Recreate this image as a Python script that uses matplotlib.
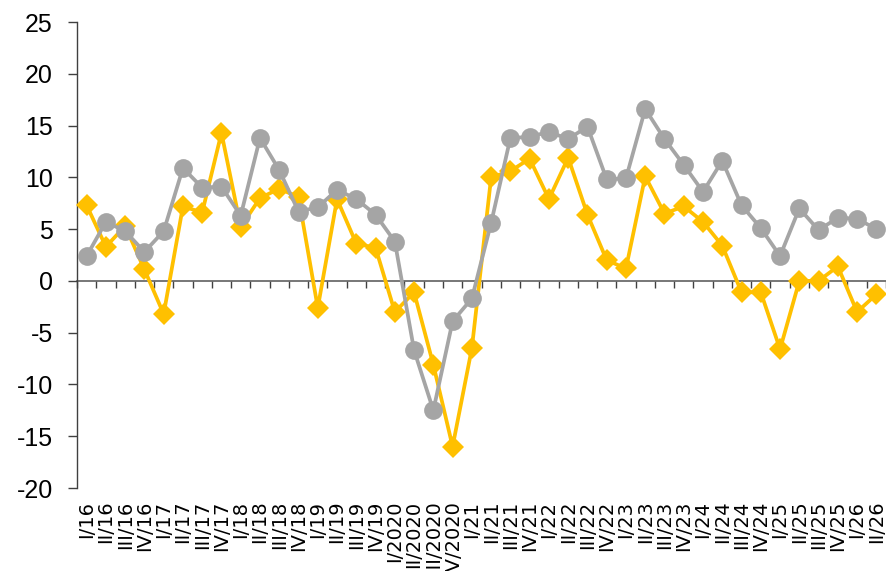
import matplotlib
matplotlib.use("Agg")
import matplotlib.pyplot as plt

categories = ["I/16", "II/16", "III/16", "IV/16",
              "I/17", "II/17", "III/17", "IV/17",
              "I/18", "II/18", "III/18", "IV/18",
              "I/19", "II/19", "III/19", "IV/19",
              "I/2020", "II/2020", "III/2020", "IV/2020",
              "I/21", "II/21", "III/21", "IV/21",
              "I/22", "II/22", "III/22", "IV/22",
              "I/23", "II/23", "III/23", "IV/23",
              "I/24", "II/24", "III/24", "IV/24",
              "I/25", "II/25", "III/25", "IV/25",
              "I/26", "II/26"]

gray_series = [2.4, 5.7, 4.8, 2.8,
               4.8, 10.9, 9.0, 9.1,
               6.3, 13.8, 10.7, 6.7,
               7.1, 8.8, 7.9, 6.4,
               3.8, -6.7, -12.5, -3.9,
               -1.7, 5.6, 13.8, 13.9,
               14.4, 13.7, 14.9, 9.8,
               9.9, 16.6, 13.7, 11.2,
               8.6, 11.6, 7.3, 5.1,
               2.4, 7.0, 4.9, 6.1,
               6.0, 5.0]

yellow_series = [7.3, 3.3, 5.3, 1.1,
                 -3.2, 7.2, 6.6, 14.3,
                 5.2, 8.0, 8.9, 8.1,
                 -2.6, 7.9, 3.6, 3.2,
                 -3.0, -1.1, -8.1, -16.0,
                 -6.5, 10.0, 10.6, 11.8,
                 7.9, 11.9, 6.4, 2.0,
                 1.2, 10.1, 6.5, 7.2,
                 5.7, 3.4, -1.1, -1.1,
                 -6.6, 0.0, 0.0, 1.4,
                 -3.0, -1.3]

y_ticks = [-20, -15, -10, -5, 0, 5, 10, 15, 20, 25]

plt.rcParams['font.family'] = ['Liberation Sans', 'DejaVu Sans']

W, H = 887, 571
fig = plt.figure(figsize=(W / 100, H / 100), dpi=100)
ax = fig.add_axes([77 / W, 1 - 488 / H, (886 - 77) / W, (488 - 22) / H])

x = list(range(len(categories)))
ax.plot(x, yellow_series, color="#FFC000", lw=2.7, marker="D", ms=11.5,
        markeredgewidth=0, zorder=3, clip_on=False)
ax.plot(x, gray_series, color="#A5A5A5", lw=2.7, marker="o", ms=13.5,
        markeredgewidth=0, zorder=4, clip_on=False)

ax.set_xlim(-0.5, len(categories) - 0.5)
ax.set_ylim(y_ticks[0], y_ticks[-1])
ax.set_yticks(y_ticks)
ax.set_yticklabels([str(v) for v in y_ticks], fontsize=18)

ax.set_xticks(x)
ax.set_xticklabels(categories, rotation=90, fontsize=14,
                   family=['DejaVu Sans'])
ax.tick_params(axis="x", length=0, pad=9)
ax.tick_params(axis="y", length=6.5, width=1, color="#404040", pad=11)

for s in ["top", "right", "bottom"]:
    ax.spines[s].set_visible(False)
ax.spines["left"].set_color("#404040")
ax.spines["left"].set_linewidth(1)

# category axis crossing at zero, with tick marks between categories
zero_frac = (0 - y_ticks[0]) / (y_ticks[-1] - y_ticks[0])
sec = ax.secondary_xaxis(zero_frac)
sec.set_xticks([i + 0.5 for i in range(-1, len(categories))])
sec.set_xticklabels([])
sec.tick_params(axis="x", length=5, width=1, color="#404040", direction="out")
sec.spines["bottom"].set_color("#606060")
sec.spines["bottom"].set_linewidth(1.2)
sec.set_zorder(1)

fig.savefig("out.png", dpi=100)
